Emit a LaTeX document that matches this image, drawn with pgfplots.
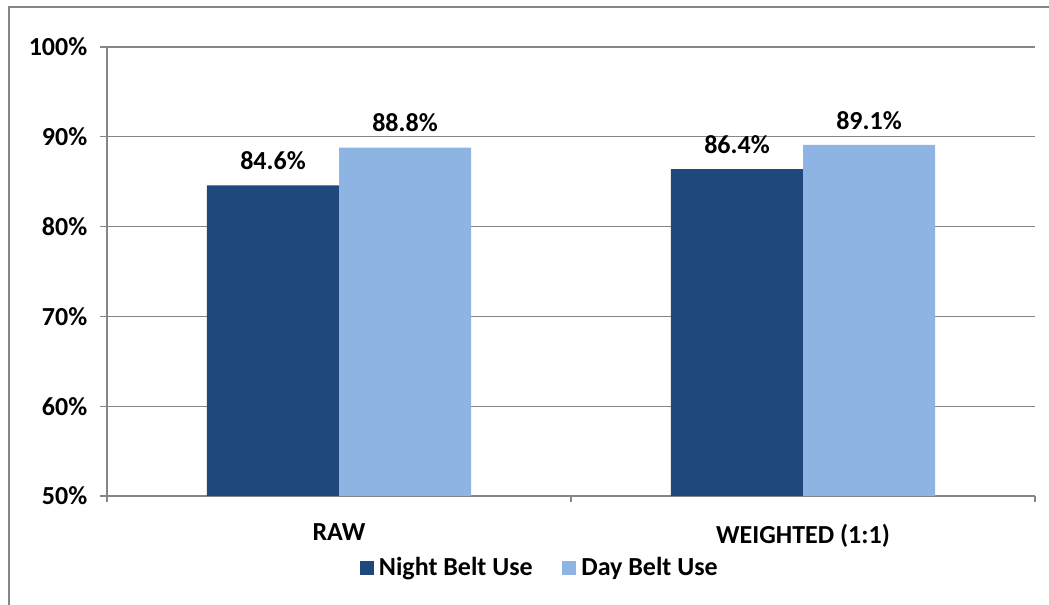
\documentclass[border=0pt]{standalone}
\usepackage{fontspec}
\setmainfont{Carlito}
\usepackage{pgfplots}
\pgfplotsset{compat=1.18}
\definecolor{nightblue}{RGB}{31,73,125}
\definecolor{dayblue}{RGB}{141,180,226}
\definecolor{linegray}{RGB}{134,134,134}
\newcommand{\chartfont}{\fontsize{19.5}{22}\selectfont\bfseries}
\newcommand{\yl}[1]{#1\%\hspace*{6pt}}

\begin{document}
\begin{tikzpicture}
\useasboundingbox (0,0) rectangle (786.75pt,453.75pt);
% chart frame, cropped on the right and bottom
\draw[linegray, line width=1.5pt] (6.75pt,-20pt) -- (6.75pt,448.5pt) -- (820pt,448.5pt);
\begin{axis}[
  at={(80.25pt,81.75pt)}, anchor=south west,
  scale only axis, width=696pt, height=336.75pt,
  ybar=0pt, bar width=0.2845,
  xmin=0.5, xmax=2.5, ymin=50, ymax=100,
  axis x line*=bottom, axis y line*=left, axis line style={-, linegray, line width=1pt},
  xtick={1,2}, xticklabels={RAW, WEIGHTED (1:1)},
  minor xtick={0.5,1.5,2.5},
  ytick={50,60,...,100}, yticklabels={\yl{50},\yl{60},\yl{70},\yl{80},\yl{90},\yl{100}},
  major x tick style={draw=none},
  major tick length=5.25pt, minor tick length=4.5pt,
  tick align=outside,
  tick style={linegray, line width=1pt},
  ymajorgrids, grid style={linegray, line width=1pt},
  ticklabel style={font=\chartfont},
  xticklabel style={yshift=-12pt},
  nodes near coords={\pgfmathprintnumber[fixed,precision=1,zerofill,assume math mode=true]{\pgfplotspointmeta}\%},
  every node near coord/.append style={font=\chartfont, black, yshift=8pt},
  legend style={at={(0.4666,-0.160)}, anchor=center, draw=none, legend columns=2,
    font=\chartfont,
    /tikz/every odd column/.append style={column sep=2pt},
    /tikz/every even column/.append style={column sep=20pt}},
  legend image code/.code={\fill[#1] (0pt,-5.25pt) rectangle (10.5pt,5.25pt);},
]
\addplot[fill=nightblue, draw=none] coordinates {(1,84.6) (2,86.4)};
\addlegendentry{Night Belt Use}
\addplot[fill=dayblue, draw=none] coordinates {(1,88.8) (2,89.1)};
\addlegendentry{Day Belt Use}
\end{axis}
\end{tikzpicture}
\end{document}
